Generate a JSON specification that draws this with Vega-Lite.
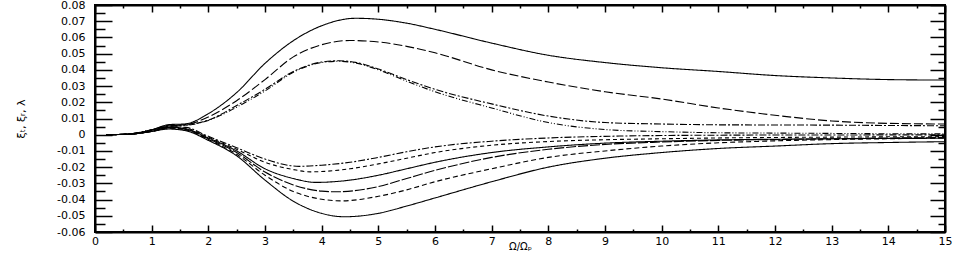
{
  "$schema": "https://vega.github.io/schema/vega-lite/v6.json",
  "width": 850,
  "height": 227,
  "autosize": {"type": "none"},
  "padding": {"left": 95, "top": 5, "right": 16, "bottom": 24},
  "config": {
    "view": {"stroke": "black", "strokeWidth": 2},
    "axis": {"labelFont": "DejaVu Sans", "titleFont": "DejaVu Sans", "labelColor": "black", "titleColor": "black", "tickColor": "black", "domainColor": "black", "domainWidth": 2, "grid": false, "labelOverlap": false, "labelBound": false, "labelFlush": false}
  },
  "datasets": {
    "curves": [
      {"s":"U1","x":0.2,"y":0},{"s":"U1","x":0.6,"y":0.0005},{"s":"U1","x":1.0,"y":0.003},{"s":"U1","x":1.3,"y":0.0062},{"s":"U1","x":1.6,"y":0.0067},{"s":"U1","x":2.0,"y":0.013},{"s":"U1","x":2.5,"y":0.026},{"s":"U1","x":3.0,"y":0.044},{"s":"U1","x":3.5,"y":0.058},{"s":"U1","x":4.0,"y":0.0672},{"s":"U1","x":4.6,"y":0.0718},{"s":"U1","x":5.0,"y":0.0712},{"s":"U1","x":5.5,"y":0.0688},{"s":"U1","x":6,"y":0.065},{"s":"U1","x":7,"y":0.0565},{"s":"U1","x":8,"y":0.049},{"s":"U1","x":9,"y":0.0445},{"s":"U1","x":10,"y":0.0413},{"s":"U1","x":11,"y":0.039},{"s":"U1","x":12,"y":0.0365},{"s":"U1","x":13,"y":0.035},{"s":"U1","x":14,"y":0.034},{"s":"U1","x":15,"y":0.0337},
      {"s":"U2","x":0.2,"y":0},{"s":"U2","x":0.6,"y":0.0005},{"s":"U2","x":1.0,"y":0.003},{"s":"U2","x":1.3,"y":0.0058},{"s":"U2","x":1.6,"y":0.0062},{"s":"U2","x":2.0,"y":0.011},{"s":"U2","x":2.5,"y":0.021},{"s":"U2","x":3.0,"y":0.034},{"s":"U2","x":3.5,"y":0.048},{"s":"U2","x":4.0,"y":0.0555},{"s":"U2","x":4.5,"y":0.0581},{"s":"U2","x":5.0,"y":0.0572},{"s":"U2","x":5.5,"y":0.0545},{"s":"U2","x":6,"y":0.0505},{"s":"U2","x":7,"y":0.04},{"s":"U2","x":8,"y":0.0325},{"s":"U2","x":9,"y":0.0265},{"s":"U2","x":10,"y":0.022},{"s":"U2","x":11,"y":0.0165},{"s":"U2","x":12,"y":0.012},{"s":"U2","x":13,"y":0.0085},{"s":"U2","x":14,"y":0.007},{"s":"U2","x":15,"y":0.0066},
      {"s":"U3","x":0.2,"y":0},{"s":"U3","x":0.6,"y":0.0005},{"s":"U3","x":1.0,"y":0.003},{"s":"U3","x":1.3,"y":0.0055},{"s":"U3","x":1.6,"y":0.006},{"s":"U3","x":2.0,"y":0.009},{"s":"U3","x":2.5,"y":0.018},{"s":"U3","x":3.0,"y":0.028},{"s":"U3","x":3.5,"y":0.039},{"s":"U3","x":4.0,"y":0.0448},{"s":"U3","x":4.3,"y":0.0456},{"s":"U3","x":4.6,"y":0.0446},{"s":"U3","x":5.0,"y":0.0405},{"s":"U3","x":5.5,"y":0.034},{"s":"U3","x":6,"y":0.028},{"s":"U3","x":7,"y":0.019},{"s":"U3","x":8,"y":0.0115},{"s":"U3","x":9,"y":0.0075},{"s":"U3","x":10,"y":0.0066},{"s":"U3","x":11,"y":0.0061},{"s":"U3","x":12,"y":0.006},{"s":"U3","x":13,"y":0.0059},{"s":"U3","x":14,"y":0.0057},{"s":"U3","x":15,"y":0.0055},
      {"s":"U4","x":0.2,"y":0},{"s":"U4","x":0.6,"y":0.0005},{"s":"U4","x":1.0,"y":0.003},{"s":"U4","x":1.3,"y":0.0052},{"s":"U4","x":1.6,"y":0.0057},{"s":"U4","x":2.0,"y":0.0088},{"s":"U4","x":2.5,"y":0.017},{"s":"U4","x":3.0,"y":0.027},{"s":"U4","x":3.5,"y":0.0385},{"s":"U4","x":4.0,"y":0.0445},{"s":"U4","x":4.3,"y":0.0453},{"s":"U4","x":4.6,"y":0.0442},{"s":"U4","x":5.0,"y":0.04},{"s":"U4","x":5.5,"y":0.033},{"s":"U4","x":6,"y":0.0265},{"s":"U4","x":7,"y":0.0165},{"s":"U4","x":8,"y":0.0075},{"s":"U4","x":9,"y":0.0032},{"s":"U4","x":10,"y":0.0019},{"s":"U4","x":11,"y":0.0012},{"s":"U4","x":12,"y":0.001},{"s":"U4","x":13,"y":0.0008},{"s":"U4","x":14,"y":0.0006},{"s":"U4","x":15,"y":0.0005},
      {"s":"L1","x":0.2,"y":0},{"s":"L1","x":0.6,"y":0.0003},{"s":"L1","x":1.0,"y":0.002},{"s":"L1","x":1.3,"y":0.0035},{"s":"L1","x":1.6,"y":0.0025},{"s":"L1","x":2.0,"y":-0.0035},{"s":"L1","x":2.5,"y":-0.013},{"s":"L1","x":3.0,"y":-0.028},{"s":"L1","x":3.5,"y":-0.041},{"s":"L1","x":4.0,"y":-0.0485},{"s":"L1","x":4.4,"y":-0.0506},{"s":"L1","x":5.0,"y":-0.0485},{"s":"L1","x":5.5,"y":-0.044},{"s":"L1","x":6,"y":-0.039},{"s":"L1","x":7,"y":-0.029},{"s":"L1","x":8,"y":-0.02},{"s":"L1","x":9,"y":-0.0145},{"s":"L1","x":10,"y":-0.011},{"s":"L1","x":11,"y":-0.0085},{"s":"L1","x":12,"y":-0.007},{"s":"L1","x":13,"y":-0.0055},{"s":"L1","x":14,"y":-0.0048},{"s":"L1","x":15,"y":-0.0043},
      {"s":"L2","x":0.2,"y":0},{"s":"L2","x":0.6,"y":0.0003},{"s":"L2","x":1.0,"y":0.002},{"s":"L2","x":1.3,"y":0.004},{"s":"L2","x":1.6,"y":0.003},{"s":"L2","x":2.0,"y":-0.003},{"s":"L2","x":2.5,"y":-0.012},{"s":"L2","x":3.0,"y":-0.025},{"s":"L2","x":3.5,"y":-0.035},{"s":"L2","x":4.0,"y":-0.0398},{"s":"L2","x":4.35,"y":-0.0408},{"s":"L2","x":5.0,"y":-0.038},{"s":"L2","x":5.5,"y":-0.034},{"s":"L2","x":6,"y":-0.029},{"s":"L2","x":7,"y":-0.021},{"s":"L2","x":8,"y":-0.014},{"s":"L2","x":9,"y":-0.01},{"s":"L2","x":10,"y":-0.007},{"s":"L2","x":11,"y":-0.005},{"s":"L2","x":12,"y":-0.0038},{"s":"L2","x":13,"y":-0.003},{"s":"L2","x":14,"y":-0.0025},{"s":"L2","x":15,"y":-0.002},
      {"s":"L3","x":0.2,"y":0},{"s":"L3","x":0.6,"y":0.0003},{"s":"L3","x":1.0,"y":0.002},{"s":"L3","x":1.3,"y":0.0042},{"s":"L3","x":1.6,"y":0.0033},{"s":"L3","x":2.0,"y":-0.0025},{"s":"L3","x":2.5,"y":-0.011},{"s":"L3","x":3.0,"y":-0.023},{"s":"L3","x":3.5,"y":-0.031},{"s":"L3","x":4.0,"y":-0.0348},{"s":"L3","x":4.25,"y":-0.0352},{"s":"L3","x":5.0,"y":-0.032},{"s":"L3","x":5.5,"y":-0.027},{"s":"L3","x":6,"y":-0.022},{"s":"L3","x":7,"y":-0.014},{"s":"L3","x":8,"y":-0.009},{"s":"L3","x":9,"y":-0.006},{"s":"L3","x":10,"y":-0.0045},{"s":"L3","x":11,"y":-0.0035},{"s":"L3","x":12,"y":-0.003},{"s":"L3","x":13,"y":-0.0025},{"s":"L3","x":14,"y":-0.002},{"s":"L3","x":15,"y":-0.0018},
      {"s":"L4","x":0.2,"y":0},{"s":"L4","x":0.6,"y":0.0003},{"s":"L4","x":1.0,"y":0.0022},{"s":"L4","x":1.3,"y":0.0045},{"s":"L4","x":1.6,"y":0.0036},{"s":"L4","x":2.0,"y":-0.002},{"s":"L4","x":2.5,"y":-0.01},{"s":"L4","x":3.0,"y":-0.021},{"s":"L4","x":3.5,"y":-0.027},{"s":"L4","x":3.9,"y":-0.0294},{"s":"L4","x":4.5,"y":-0.028},{"s":"L4","x":5.0,"y":-0.025},{"s":"L4","x":5.5,"y":-0.021},{"s":"L4","x":6,"y":-0.017},{"s":"L4","x":7,"y":-0.011},{"s":"L4","x":8,"y":-0.0075},{"s":"L4","x":9,"y":-0.0052},{"s":"L4","x":10,"y":-0.004},{"s":"L4","x":11,"y":-0.0032},{"s":"L4","x":12,"y":-0.0028},{"s":"L4","x":13,"y":-0.0025},{"s":"L4","x":14,"y":-0.0023},{"s":"L4","x":15,"y":-0.0022},
      {"s":"L5","x":0.2,"y":0},{"s":"L5","x":0.6,"y":0.0003},{"s":"L5","x":1.0,"y":0.0022},{"s":"L5","x":1.3,"y":0.0048},{"s":"L5","x":1.6,"y":0.004},{"s":"L5","x":2.0,"y":-0.0015},{"s":"L5","x":2.5,"y":-0.009},{"s":"L5","x":3.0,"y":-0.017},{"s":"L5","x":3.5,"y":-0.0215},{"s":"L5","x":3.8,"y":-0.0229},{"s":"L5","x":4.5,"y":-0.021},{"s":"L5","x":5.0,"y":-0.018},{"s":"L5","x":5.5,"y":-0.0145},{"s":"L5","x":6,"y":-0.011},{"s":"L5","x":7,"y":-0.0065},{"s":"L5","x":8,"y":-0.0042},{"s":"L5","x":9,"y":-0.0031},{"s":"L5","x":10,"y":-0.0025},{"s":"L5","x":11,"y":-0.002},{"s":"L5","x":12,"y":-0.0017},{"s":"L5","x":13,"y":-0.0015},{"s":"L5","x":14,"y":-0.0013},{"s":"L5","x":15,"y":-0.0012},
      {"s":"L6","x":0.2,"y":0},{"s":"L6","x":0.6,"y":0.0003},{"s":"L6","x":1.0,"y":0.0025},{"s":"L6","x":1.3,"y":0.005},{"s":"L6","x":1.6,"y":0.0045},{"s":"L6","x":2.0,"y":-0.001},{"s":"L6","x":2.5,"y":-0.008},{"s":"L6","x":3.0,"y":-0.015},{"s":"L6","x":3.6,"y":-0.0195},{"s":"L6","x":4.0,"y":-0.0188},{"s":"L6","x":4.5,"y":-0.017},{"s":"L6","x":5.0,"y":-0.014},{"s":"L6","x":5.5,"y":-0.0105},{"s":"L6","x":6,"y":-0.0075},{"s":"L6","x":7,"y":-0.004},{"s":"L6","x":8,"y":-0.002},{"s":"L6","x":9,"y":-0.001},{"s":"L6","x":10,"y":-0.0005},{"s":"L6","x":11,"y":-0.0003},{"s":"L6","x":12,"y":-0.0002},{"s":"L6","x":13,"y":-0.0002},{"s":"L6","x":14,"y":-0.0001},{"s":"L6","x":15,"y":-0.0001}
    ]
  },
  "data": {"name": "curves"},
  "layer": [
    {
      "mark": {"type": "line", "interpolate": "monotone", "color": "black", "strokeWidth": 1.1},
      "encoding": {
        "x": {"field": "x", "type": "quantitative", "scale": {"domain": [0, 15], "nice": false},
          "axis": {"orient": "bottom", "values": [0,0.5,1,1.5,2,2.5,3,3.5,4,4.5,5,5.5,6,6.5,7,7.5,8,8.5,9,9.5,10,10.5,11,11.5,12,12.5,13,13.5,14,14.5,15],
            "labelExpr": "datum.value % 1 == 0 ? format(datum.value, 'd') : ''",
            "tickSize": {"condition": {"test": "datum.value % 1 == 0", "value": -7}, "value": -3},
            "tickWidth": 1.5, "labelFontSize": 11, "labelPadding": 10,
            "title": "Ω/Ωₚ", "titleFontSize": 10, "titleFontWeight": "normal", "titlePadding": -9}},
        "y": {"field": "y", "type": "quantitative", "scale": {"domain": [-0.06, 0.08], "nice": false},
          "axis": {"orient": "left", "values": [-0.06,-0.055,-0.05,-0.045,-0.04,-0.035,-0.03,-0.025,-0.02,-0.015,-0.01,-0.005,0,0.005,0.01,0.015,0.02,0.025,0.03,0.035,0.04,0.045,0.05,0.055,0.06,0.065,0.07,0.075,0.08],
            "labelExpr": "round(datum.value*1000) % 10 == 0 ? (round(datum.value*1000) == 0 ? '0' : replace(format(datum.value, '.2f'), '−', '-')) : ''",
            "tickSize": {"condition": {"test": "round(datum.value*1000) % 10 == 0", "value": -17}, "value": -10},
            "tickWidth": 1.5, "labelFontSize": 11, "labelPadding": 27,
            "title": "ξₜ, ξᵣ, λ", "titleFontSize": 11, "titleFontWeight": "normal", "titlePadding": 30}},
        "detail": {"field": "s"},
        "strokeDash": {"field": "s", "type": "nominal", "legend": null,
          "scale": {"domain": ["U1","U2","U3","U4","L1","L2","L3","L4","L5","L6"],
            "range": [[1,0],[9,3],[7,2,2,2],[6,2,1,2,1,2],[1,0],[5,3],[10,2],[1,0],[4,3],[7,2,2,2]]}}
      }
    },
    {
      "mark": {"type": "line", "opacity": 0},
      "encoding": {
        "x": {"field": "x", "type": "quantitative",
          "axis": {"orient": "top", "values": [0,0.5,1,1.5,2,2.5,3,3.5,4,4.5,5,5.5,6,6.5,7,7.5,8,8.5,9,9.5,10,10.5,11,11.5,12,12.5,13,13.5,14,14.5,15],
            "labels": false, "title": null,
            "tickSize": {"condition": {"test": "datum.value % 1 == 0", "value": -7}, "value": -3},
            "tickWidth": 1.5}},
        "y": {"field": "y", "type": "quantitative",
          "axis": {"orient": "right", "values": [-0.06,-0.055,-0.05,-0.045,-0.04,-0.035,-0.03,-0.025,-0.02,-0.015,-0.01,-0.005,0,0.005,0.01,0.015,0.02,0.025,0.03,0.035,0.04,0.045,0.05,0.055,0.06,0.065,0.07,0.075,0.08],
            "labels": false, "title": null,
            "tickSize": {"condition": {"test": "round(datum.value*1000) % 10 == 0", "value": -15}, "value": -7},
            "tickWidth": 1.5}},
        "detail": {"field": "s"}
      }
    }
  ],
  "resolve": {"axis": {"x": "independent", "y": "independent"}}
}
